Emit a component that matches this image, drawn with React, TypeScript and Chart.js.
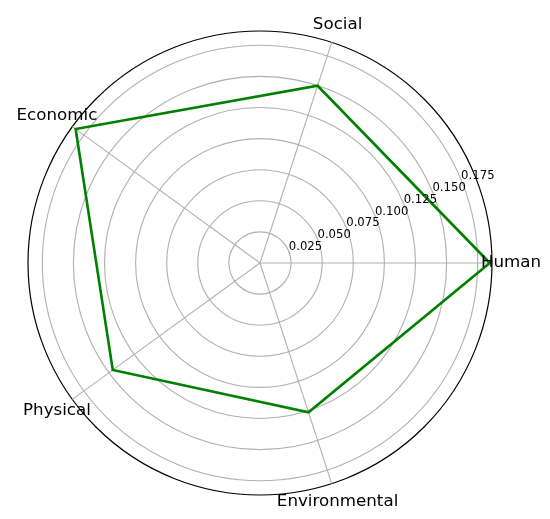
import React, { useEffect, useRef } from "react";
import { Chart, registerables } from "chart.js";

Chart.register(...registerables);

// Categories in matplotlib order (counter-clockwise from the right)
const categories = ["Human", "Social", "Economic", "Physical", "Environmental"];
const values = [0.1847, 0.1498, 0.1832, 0.1463, 0.1262];
const ringTicks = [0.025, 0.05, 0.075, 0.1, 0.125, 0.15, 0.175];
const tickLabels = ["0.025", "0.050", "0.075", "0.100", "0.125", "0.150", "0.175"];
const rMax = 0.1865;

// Chart.js goes clockwise, matplotlib counter-clockwise: reorder
const order = [0, 4, 3, 2, 1];
const chartLabels = order.map((i) => categories[i]);
const chartValues = order.map((i) => values[i]);

const labelPlugin = {
  id: "mplLabels",
  afterDraw(chart: any) {
    const scale = chart.scales.r;
    const ctx = chart.ctx;
    ctx.save();
    // category labels, centred outside the circle
    ctx.font = '16.7px "DejaVu Sans"';
    ctx.fillStyle = "#000";
    ctx.textAlign = "center";
    ctx.textBaseline = "middle";
    chartLabels.forEach((lab, i) => {
      const p = scale.getPointPosition(i, scale.drawingArea + 19);
      ctx.fillText(lab, p.x, p.y);
    });
    // radial tick labels at 22.5 degrees
    ctx.font = '11.7px "DejaVu Sans"';
    ctx.textAlign = "left";
    ctx.textBaseline = "bottom";
    const ang = (22.5 * Math.PI) / 180;
    ringTicks.forEach((v, i) => {
      const d = scale.getDistanceFromCenterForValue(v);
      const x = scale.xCenter + d * Math.cos(ang);
      const y = scale.yCenter - d * Math.sin(ang);
      ctx.fillText(tickLabels[i], x, y + 2);
    });
    ctx.restore();
  },
};

export default function App() {
  const ref = useRef<HTMLCanvasElement | null>(null);
  useEffect(() => {
    if (!ref.current) return;
    const chart = new Chart(ref.current, {
      type: "radar",
      data: {
        labels: chartLabels,
        datasets: [
          {
            data: chartValues,
            borderColor: "#008000",
            borderWidth: 2.6,
            backgroundColor: "rgba(0,0,0,0)",
            fill: false,
            pointRadius: 0,
            pointHoverRadius: 0,
            tension: 0,
          },
        ],
      },
      options: {
        responsive: false,
        animation: false,
        devicePixelRatio: 1,
        layout: { padding: { left: 28, top: 31, right: 58, bottom: 24 } },
        plugins: { legend: { display: false }, tooltip: { enabled: false } },
        scales: {
          r: {
            min: 0,
            max: rMax,
            startAngle: 90,
            afterBuildTicks: (scale: any) => {
              scale.ticks = [0, ...ringTicks, rMax].map((v) => ({ value: v }));
            },
            ticks: { display: false },
            pointLabels: { display: false },
            angleLines: { display: true, color: "#b0b0b0", lineWidth: 1.1 },
            grid: {
              circular: true,
              color: (c: any) => (c.index === ringTicks.length + 1 ? "#000000" : "#b0b0b0"),
              lineWidth: (c: any) => (c.index === ringTicks.length + 1 ? 1.2 : 1.1),
            },
          },
        },
      },
      plugins: [labelPlugin],
    });
    return () => chart.destroy();
  }, []);
  return (
    <div style={{ position: "absolute", left: 0, top: 0, width: 550, height: 519, background: "#fff" }}>
      <canvas ref={ref} width={550} height={519} />
    </div>
  );
}
